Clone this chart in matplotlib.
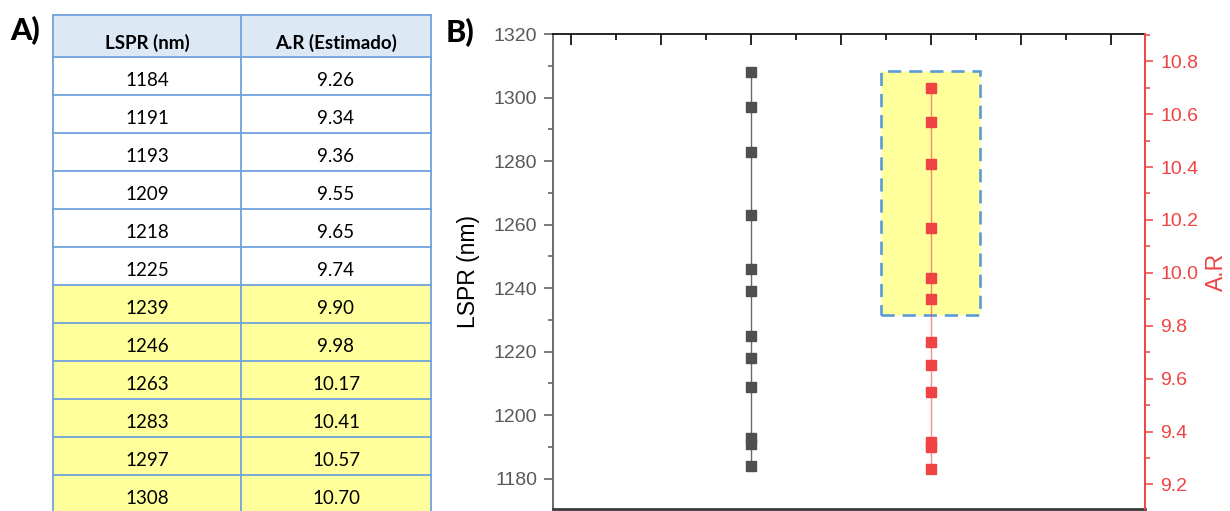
#!/usr/bin/env python3
"""LSPR vs estimated aspect ratio: summary table (A) and dual-axis plot (B)."""

import matplotlib

matplotlib.use("Agg")

import matplotlib.pyplot as plt
from matplotlib.patches import Rectangle
from matplotlib.ticker import AutoMinorLocator, FormatStrFormatter, MultipleLocator

plt.rcParams["font.family"] = ["Liberation Sans", "DejaVu Sans"]

# measured plasmon band positions and the aspect ratio estimated from each
lspr_nm = [1184, 1191, 1193, 1209, 1218, 1225, 1239, 1246, 1263, 1283, 1297, 1308]
aspect_ratio = [9.26, 9.34, 9.36, 9.55, 9.65, 9.74, 9.90, 9.98, 10.17, 10.41, 10.57, 10.70]
ar_text = ["9.26", "9.34", "9.36", "9.55", "9.65", "9.74", "9.90", "9.98",
           "10.17", "10.41", "10.57", "10.70"]
header = ["LSPR (nm)", "A.R (Estimado)"]
first_highlight = 6  # rows from here on are the selected samples

# x positions of the two series in panel B
x_lspr = 1.0
x_ar = 2.0

YELLOW = "#ffff9c"
BLUE_EDGE = "#6fa3dc"
RED = "#f04343"
DARK = "#4f4f4f"
TICK_GREY = "#595959"

fig = plt.figure(figsize=(12.3, 5.11), dpi=100)

# ---- panel A: table, drawn in pixel units ----
tab = fig.add_axes([0, 0, 1, 1])
tab.set_xlim(0, 1230)
tab.set_ylim(511, 0)
tab.axis("off")

col_edges = [53, 241, 431]
header_top, header_h, row_h = 15, 42, 38
table_font = dict(family=["Lato", "DejaVu Sans"], fontsize=13.5, color="black")

tab.add_patch(Rectangle((col_edges[0], header_top), col_edges[-1] - col_edges[0], header_h,
                        facecolor="#dde8f5", edgecolor="none"))
for j, name in enumerate(header):
    cx = (col_edges[j] + col_edges[j + 1]) / 2
    tab.text(cx, header_top + header_h / 2 + 7, name, ha="center", va="center",
             fontweight="bold", **table_font)

for i, (lam, ar) in enumerate(zip(lspr_nm, ar_text)):
    top = header_top + header_h + i * row_h
    face = YELLOW if i >= first_highlight else "white"
    tab.add_patch(Rectangle((col_edges[0], top), col_edges[-1] - col_edges[0], row_h,
                            facecolor=face, edgecolor="none"))
    for j, val in enumerate([str(lam), ar]):
        cx = (col_edges[j] + col_edges[j + 1]) / 2
        tab.text(cx, top + row_h / 2 + 5, val, ha="center", va="center", **table_font)

bottom = header_top + header_h + len(lspr_nm) * row_h
for x in col_edges:
    tab.plot([x, x], [header_top, bottom], color=BLUE_EDGE, lw=1.3)
for k in range(len(lspr_nm) + 1):
    y = header_top + header_h + k * row_h
    tab.plot([col_edges[0], col_edges[-1]], [y, y], color=BLUE_EDGE, lw=1.3)
tab.plot([col_edges[0], col_edges[-1]], [header_top, header_top], color=BLUE_EDGE, lw=1.3)

tab.text(10, 31, "A)", ha="left", va="center", fontsize=22, fontweight="black",
         family=["Lato", "DejaVu Sans"])
tab.text(446, 33, "B)", ha="left", va="center", fontsize=22, fontweight="black",
         family=["Lato", "DejaVu Sans"])

# ---- panel B: LSPR (left axis) and A.R (right axis) ----
ax = fig.add_axes([553 / 1230, 2 / 511, (1145 - 553) / 1230, (509 - 34) / 511])
ax.patch.set_alpha(0)
ax2 = ax.twinx()

ax.set_xlim(-0.1, 3.19)
ax.set_ylim(1170.5, 1320)
ax2.set_ylim(9.107, 10.903)

sel = lspr_nm[first_highlight:]
ax.add_patch(Rectangle((x_ar - 0.275, min(sel) - 7.5), 0.55, max(sel) - min(sel) + 7.9,
                       facecolor=YELLOW, edgecolor="#5b9bd5", lw=1.9,
                       linestyle=(0, (5, 3)), zorder=1))

ax.plot([x_lspr] * len(lspr_nm), lspr_nm, color="#6a6a6a", lw=1.0, zorder=2)
ax.plot([x_lspr] * len(lspr_nm), lspr_nm, ls="none", marker="s", ms=7.2,
        color=DARK, zorder=3)
ax2.plot([x_ar] * len(aspect_ratio), aspect_ratio, color=RED, alpha=0.6, lw=1.0, zorder=2)
ax2.plot([x_ar] * len(aspect_ratio), aspect_ratio, ls="none", marker="s", ms=7.2,
         color=RED, zorder=3)

ax.xaxis.set_major_locator(MultipleLocator(0.5))
ax.xaxis.set_minor_locator(AutoMinorLocator(2))
ax.tick_params(axis="x", which="both", bottom=False, top=True, direction="in",
               labelbottom=False, labeltop=False, color="black")
ax.tick_params(axis="x", which="major", length=8, width=1.2)
ax.tick_params(axis="x", which="minor", length=4, width=1.2)

ax.yaxis.set_major_locator(MultipleLocator(20))
ax.yaxis.set_minor_locator(AutoMinorLocator(2))
ax.tick_params(axis="y", which="major", length=6.5, width=1.1, pad=5,
               labelsize=14, labelcolor=TICK_GREY, color=TICK_GREY)
ax.tick_params(axis="y", which="minor", length=3.6, width=1.1, color=TICK_GREY)

ax2.yaxis.set_major_locator(MultipleLocator(0.2))
ax2.yaxis.set_minor_locator(AutoMinorLocator(2))
ax2.tick_params(axis="y", which="major", length=6, width=1.1, pad=5,
                labelsize=14, labelcolor=RED, color=RED)
ax2.tick_params(axis="y", which="minor", length=3.6, width=1.1, color=RED)
ax2.yaxis.set_major_formatter(FormatStrFormatter("%.1f"))

ax.set_ylabel("LSPR (nm)", fontsize=16.5, color="black", labelpad=10)
ax2.set_ylabel("A.R", fontsize=16.5, color=RED, labelpad=5)

ax.spines["left"].set_color("#6a6a6a")
ax.spines["left"].set_linewidth(1.4)
ax.spines["bottom"].set_color("#3a3a3a")
ax.spines["bottom"].set_linewidth(2.0)
ax.spines["top"].set_color("black")
ax.spines["top"].set_linewidth(1.2)
ax.spines["right"].set_visible(False)
for side in ("left", "bottom", "top"):
    ax2.spines[side].set_visible(False)
ax2.spines["right"].set_color(RED)
ax2.spines["right"].set_linewidth(1.4)

fig.savefig("out.png", dpi=100)
plt.close(fig)
